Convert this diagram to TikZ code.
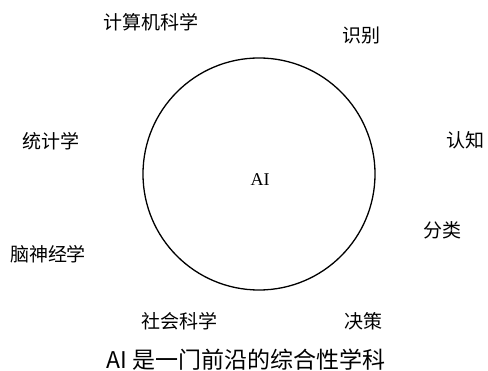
\documentclass[tikz,border=0pt]{standalone}
\usepackage{fontspec}
\setmainfont{Liberation Serif}
\newfontfamily\cjk{Noto Sans CJK SC}
\begin{document}
\begin{tikzpicture}[x=1pt,y=-1pt,
  lbl/.style={font=\cjk\fontsize{19}{21}\selectfont, inner sep=0pt, anchor=center}]
\useasboundingbox (0,0) rectangle (488,371);
\node[draw, circle, line width=1.3pt, minimum size=232pt, inner sep=0pt] (c) at (259,174) {};
\node[font=\fontsize{18}{20}\selectfont, inner sep=0pt] (ai) at (260,180) {AI};
\node[lbl] (n1) at (151,22) {计算机科学};
\node[lbl] (n2) at (361,36) {识别};
\node[lbl] (n3) at (51,141) {统计学};
\node[lbl] (n4) at (465,140) {认知};
\node[lbl] (n5) at (442,230) {分类};
\node[lbl] (n6) at (48,254) {脑神经学};
\node[lbl] (n7) at (179,321) {社会科学};
\node[lbl] (n8) at (363,321) {决策};
\node[font=\cjk\fontsize{23}{25}\selectfont, inner sep=0pt] (cap) at (246,360) {AI 是一门前沿的综合性学科};
\end{tikzpicture}
\end{document}
